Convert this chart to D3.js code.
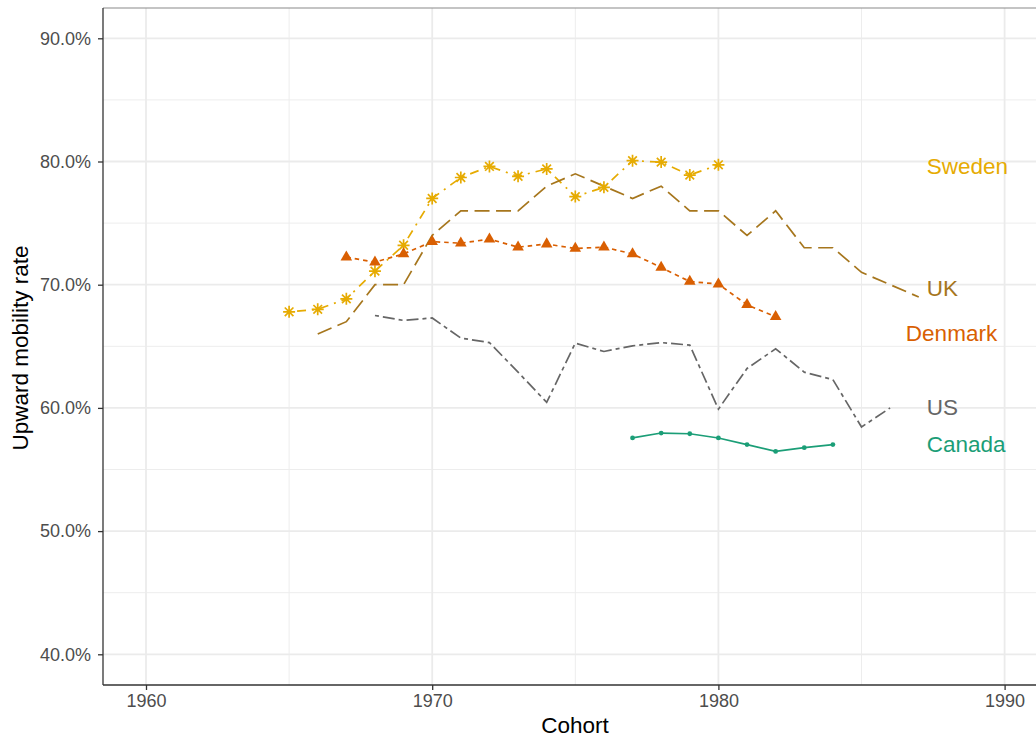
<!DOCTYPE html>
<html><head><meta charset="utf-8">
<script src="https://cdn.jsdelivr.net/npm/d3@7"></script>
<style>
html,body{margin:0;padding:0;background:#fff;}
svg{display:block;font-family:"Liberation Sans",Arial,Helvetica,sans-serif;}
</style></head>
<body><svg id="chart" width="1036" height="738"></svg>
<script>
// ---- data ----
const swedenYears = [1965,1966,1967,1968,1969,1970,1971,1972,1973,1974,1975,1976,1977,1978,1979,1980];
const swedenValues = [67.8,68.0,68.85,71.1,73.2,77.0,78.7,79.6,78.8,79.4,77.15,77.9,80.07,79.95,78.9,79.73];
const ukYears = [1966,1967,1968,1969,1970,1971,1972,1973,1974,1975,1976,1977,1978,1979,1980,1981,1982,1983,1984,1985,1986,1987];
const ukValues = [66,67,70,70,74,76,76,76,78,79,78,77,78,76,76,74,76,73,73,71,70,69];
const denmarkYears = [1967,1968,1969,1970,1971,1972,1973,1974,1975,1976,1977,1978,1979,1980,1981,1982];
const denmarkValues = [72.24,71.83,72.5,73.5,73.37,73.7,73.05,73.3,72.94,73.05,72.5,71.4,70.26,70.05,68.37,67.4];
const usYears = [1968,1969,1970,1971,1972,1973,1974,1975,1976,1977,1978,1979,1980,1981,1982,1983,1984,1985,1986];
const usValues = [67.5,67.1,67.3,65.67,65.3,62.9,60.45,65.26,64.58,65.04,65.3,65.1,59.9,63.2,64.8,62.9,62.3,58.45,60.0];
const canadaYears = [1977,1978,1979,1980,1981,1982,1983,1984];
const canadaValues = [57.56,57.96,57.9,57.56,57.02,56.47,56.77,57.02];

const countries = ["Sweden","UK","Denmark","US","Canada"];
const labelYears = [1987.28,1987.28,1986.55,1987.28,1987.28];
const labelValues = [79.62,69.7,66.07,60.1,57.08];

const xTicks = [1960,1970,1980,1990];
const xMinor = [1965,1975,1985];
const yTicks = [40,50,60,70,80,90];
const yMinor = [45,55,65,75,85];

// ---- layout ----
const svg = d3.select("#chart");
const panel = {left:103, top:8, right:1050, bottom:685};
const x = d3.scaleLinear().domain([1960,1990]).range([146,1004.6]);
const y = d3.scaleLinear().domain([40,90]).range([654.3,38.3]);

const colors = {Sweden:"#E6AB02", UK:"#A6761D", Denmark:"#D95F02", US:"#666666", Canada:"#1B9E77"};
const dashes = {Sweden:"2,6,9,6", UK:"15,6.5", Denmark:"4.5,4", US:"4,4,12,4", Canada:null};

// gridlines
const g = svg.append("g");
g.selectAll(".ymin").data(yMinor).join("line")
  .attr("x1",panel.left).attr("x2",panel.right).attr("y1",d=>y(d)).attr("y2",d=>y(d))
  .attr("stroke","#EDEDED").attr("stroke-width",1);
g.selectAll(".xmin").data(xMinor).join("line")
  .attr("y1",panel.top).attr("y2",panel.bottom).attr("x1",d=>x(d)).attr("x2",d=>x(d))
  .attr("stroke","#EDEDED").attr("stroke-width",1);
g.selectAll(".ymaj").data(yTicks).join("line")
  .attr("x1",panel.left).attr("x2",panel.right).attr("y1",d=>y(d)).attr("y2",d=>y(d))
  .attr("stroke","#EBEBEB").attr("stroke-width",1.8);
g.selectAll(".xmaj").data(xTicks).join("line")
  .attr("y1",panel.top).attr("y2",panel.bottom).attr("x1",d=>x(d)).attr("x2",d=>x(d))
  .attr("stroke","#EBEBEB").attr("stroke-width",1.8);

// top border
svg.append("line").attr("x1",panel.left).attr("x2",panel.right).attr("y1",panel.top).attr("y2",panel.top)
  .attr("stroke","#8a8a8a").attr("stroke-width",1.2);

// series
const seriesData = {
  Sweden: swedenYears.map((yr,i)=>({x:yr,y:swedenValues[i]})),
  UK: ukYears.map((yr,i)=>({x:yr,y:ukValues[i]})),
  Denmark: denmarkYears.map((yr,i)=>({x:yr,y:denmarkValues[i]})),
  US: usYears.map((yr,i)=>({x:yr,y:usValues[i]})),
  Canada: canadaYears.map((yr,i)=>({x:yr,y:canadaValues[i]}))
};
const line = d3.line().x(d=>x(d.x)).y(d=>y(d.y));
const drawOrder = ["Canada","Denmark","Sweden","UK","US"];
drawOrder.forEach(c=>{
  svg.append("path").datum(seriesData[c]).attr("d",line)
    .attr("fill","none").attr("stroke",colors[c]).attr("stroke-width",1.7)
    .attr("stroke-dasharray",dashes[c]);
});

// markers
const ast = 6;
const asteriskPath = `M${-ast},0L${ast},0M0,${-ast}L0,${ast}M${-ast*0.72},${-ast*0.72}L${ast*0.72},${ast*0.72}M${-ast*0.72},${ast*0.72}L${ast*0.72},${-ast*0.72}`;
svg.append("g").selectAll("path").data(seriesData.Sweden).join("path")
  .attr("transform",d=>`translate(${x(d.x)},${y(d.y)})`)
  .attr("d",asteriskPath).attr("stroke",colors.Sweden).attr("stroke-width",1.7).attr("fill","none");
const tri = d3.symbol().type(d3.symbolTriangle).size(58);
svg.append("g").selectAll("path").data(seriesData.Denmark).join("path")
  .attr("transform",d=>`translate(${x(d.x)},${y(d.y)})`)
  .attr("d",tri).attr("fill",colors.Denmark);
svg.append("g").selectAll("circle").data(seriesData.Canada).join("circle")
  .attr("cx",d=>x(d.x)).attr("cy",d=>y(d.y)).attr("r",2.4).attr("fill",colors.Canada);

// labels
svg.append("g").selectAll("text").data(countries).join("text")
  .attr("x",(d,i)=>x(labelYears[i])).attr("y",(d,i)=>y(labelValues[i]))
  .attr("dy","0.36em").attr("text-anchor","start")
  .attr("font-size",22.5).attr("fill",d=>colors[d]).text(d=>d);

// axes lines
svg.append("line").attr("x1",panel.left).attr("x2",panel.left).attr("y1",panel.top).attr("y2",panel.bottom)
  .attr("stroke","#333").attr("stroke-width",1.3);
svg.append("line").attr("x1",panel.left).attr("x2",panel.right).attr("y1",panel.bottom).attr("y2",panel.bottom)
  .attr("stroke","#333").attr("stroke-width",1.3);

// y axis
const yAxis = d3.axisLeft(y).tickValues(yTicks).tickSize(5).tickPadding(7)
  .tickFormat(d=>d3.format(".1f")(d)+"%");
const ya = svg.append("g").attr("transform",`translate(${panel.left},0)`).call(yAxis);
ya.select(".domain").remove();
ya.selectAll(".tick line").attr("stroke","#333").attr("stroke-width",1.3);
ya.selectAll(".tick text").attr("fill","#4D4D4D").attr("font-size",18)
  .attr("font-family",'"Liberation Sans",Arial,sans-serif');

// x axis
const xAxis = d3.axisBottom(x).tickValues(xTicks).tickSize(5).tickPadding(4).tickFormat(d3.format("d"));
const xa = svg.append("g").attr("transform",`translate(0,${panel.bottom})`).call(xAxis);
xa.select(".domain").remove();
xa.selectAll(".tick line").attr("stroke","#333").attr("stroke-width",1.3);
xa.selectAll(".tick text").attr("fill","#4D4D4D").attr("font-size",18)
  .attr("font-family",'"Liberation Sans",Arial,sans-serif');

// titles
svg.append("text").attr("x",575).attr("y",733).attr("text-anchor","middle")
  .attr("font-size",22.5).attr("fill","#000").text("Cohort");
svg.append("text").attr("transform","translate(28,348) rotate(-90)").attr("text-anchor","middle")
  .attr("font-size",22.5).attr("fill","#000").text("Upward mobility rate");
</script></body></html>
